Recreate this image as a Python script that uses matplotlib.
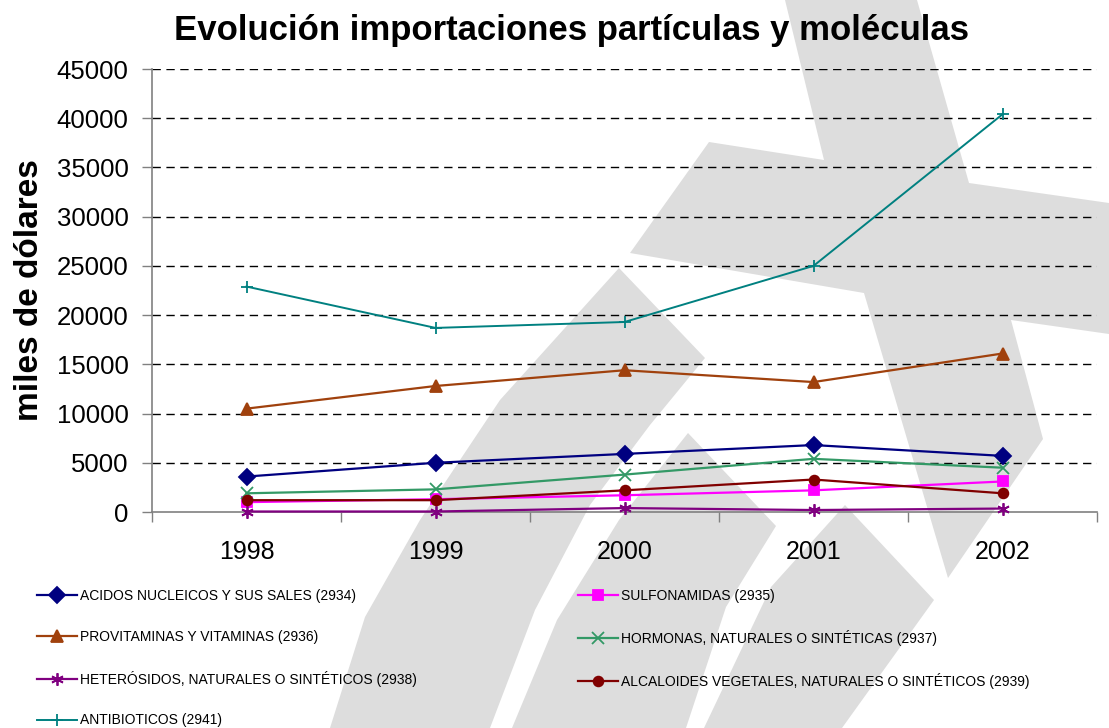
import matplotlib
matplotlib.use('Agg')
import matplotlib.pyplot as plt
from matplotlib.patches import Polygon

years = ['1998', '1999', '2000', '2001', '2002']
acidos = [3600, 5000, 5900, 6800, 5700]
sulfonamidas = [1000, 1300, 1700, 2200, 3100]
provitaminas = [10500, 12800, 14400, 13200, 16100]
hormonas = [1900, 2300, 3800, 5400, 4500]
heterosidos = [50, 50, 400, 200, 350]
alcaloides = [1200, 1200, 2200, 3300, 1900]
antibioticos = [22900, 18700, 19300, 25000, 40400]

series = [
    ('ACIDOS NUCLEICOS Y SUS SALES (2934)', acidos, '#000080', 'D', 8),
    ('SULFONAMIDAS (2935)', sulfonamidas, '#ff00ff', 's', 7),
    ('PROVITAMINAS Y VITAMINAS (2936)', provitaminas, '#a0410d', '^', 8),
    ('HORMONAS, NATURALES O SINTÉTICAS (2937)', hormonas, '#339966', 'x', 8),
    ('HETERÓSIDOS, NATURALES O SINTÉTICOS (2938)', heterosidos, '#800080', (6, 2, 0), 9),
    ('ALCALOIDES VEGETALES, NATURALES O SINTÉTICOS (2939)', alcaloides, '#800000', 'o', 7),
    ('ANTIBIOTICOS (2941)', antibioticos, '#008080', '+', 9),
]

W, H = 1109, 728
plt.rcParams['font.family'] = ['Liberation Sans', 'DejaVu Sans']

fig = plt.figure(figsize=(W / 100, H / 100), dpi=100)

# marca de agua gris del fondo
shapes = [
    [(785, 0), (917, 0), (969, 183), (1109, 203), (1109, 334), (1011, 320), (1043, 439),
     (948, 578), (864, 293), (630, 253), (709, 142), (824, 160)],
    [(619, 268), (705, 358), (650, 425), (590, 505), (535, 610), (490, 728), (330, 728),
     (365, 617), (420, 520), (500, 400)],
    [(688, 433), (776, 526), (726, 607), (686, 728), (512, 728), (557, 620), (619, 520)],
    [(845, 505), (934, 600), (842, 728), (704, 728), (771, 587)],
]
for pts in shapes:
    fp = [(x / W, 1 - y / H) for x, y in pts]
    fig.patches.append(Polygon(fp, closed=True, transform=fig.transFigure,
                               facecolor='#dddddd', edgecolor='none', zorder=-10))

ax = fig.add_axes([152 / W, 1 - 512 / H, (1097 - 152) / W, (512 - 69) / H])
ax.set_facecolor('none')

x = list(range(len(years)))
handles = {}
for name, vals, col, mk, ms in series:
    lw = 1.4 if name.startswith('ANTIB') else 1.6
    h, = ax.plot(x, vals, color=col, marker=mk, markersize=ms, linewidth=lw,
                 markeredgewidth=1.3, label=name, clip_on=False, zorder=3)
    handles[name] = h

ax.set_xlim(-0.5, len(years) - 0.5)
ax.set_ylim(0, 45000)
ax.set_yticks(range(0, 45001, 5000))
ax.set_xticks(x)
ax.set_xticklabels(years)
ax.set_xticks([i - 0.5 for i in range(len(years) + 1)], minor=True)
ax.tick_params(axis='x', which='major', length=0, pad=20, labelsize=18)
ax.tick_params(axis='x', which='minor', length=7, width=1, color='#808080', direction='out')
ax.tick_params(axis='y', length=7, width=1, color='#808080', pad=10, labelsize=18.5)

for yv in range(5000, 45001, 5000):
    ax.axhline(yv, color='black', linestyle=(0, (6, 4)), linewidth=1, zorder=1)

for s in ['top', 'right']:
    ax.spines[s].set_visible(False)
for s in ['left', 'bottom']:
    ax.spines[s].set_color('#808080')
    ax.spines[s].set_linewidth(1.2)

ax.set_ylabel('miles de dólares', fontsize=24, fontweight='bold', labelpad=8)

fig.text(571 / W, 1 - 40 / H, 'Evolución importaciones partículas y moléculas',
         ha='center', va='baseline', fontsize=25, fontweight='bold')

names = [s[0] for s in series]
left_col = [names[0], names[2], names[4], names[6]]
right_col = [names[1], names[3], names[5]]
leg_kw = dict(frameon=False, loc='upper left', borderpad=0, handlelength=2.9,
              handletextpad=0.2, labelspacing=1.93, borderaxespad=0,
              prop={'size': 10})
fig.legend([handles[n] for n in left_col], left_col,
           bbox_to_anchor=(37 / W, 1 - 589 / H), **leg_kw)
fig.legend([handles[n] for n in right_col], right_col,
           bbox_to_anchor=(578 / W, 1 - 589 / H), **leg_kw)

fig.savefig('out.png', dpi=100)
